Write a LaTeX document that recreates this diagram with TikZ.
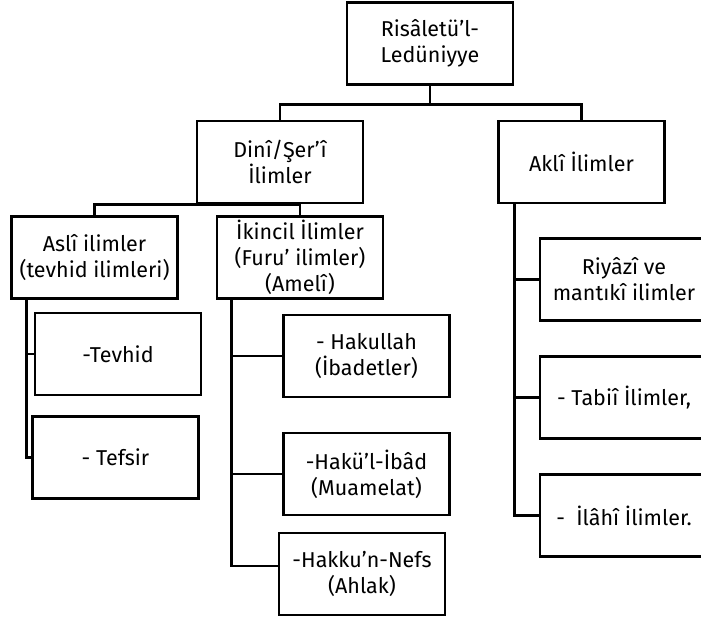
\documentclass[tikz,border=0pt]{standalone}
\usepackage{fontspec}
\setmainfont{Fira Sans}
\begin{document}
\begin{tikzpicture}[x=1pt,y=-1pt,
    kutu/.style={draw=black,line width=2.6pt,fill=white,minimum width=166pt,minimum height=82pt,
        inner sep=0pt,align=center,font=\fontsize{21.5}{26}\selectfont},
    bag/.style={black,line width=2.6pt}]
            \clip (0,0) rectangle (701,623);
            \fill[white] (0,0) rectangle (701,623);
            \node[kutu] (root) at (430,43.5) {Risâletü’l-\\Ledüniyye};
            \node[kutu] (dini) at (280,162) {Dinî/Şer’î\\İlimler};
            \node[kutu] (akli) at (581.5,162) {Aklî İlimler};
            \node[kutu] (asli) at (94.5,257.5) {Aslî ilimler\\(tevhid ilimleri)};
            \node[kutu] (ikincil) at (300,257.5) {İkincil İlimler\\(Furu’ ilimler)\\(Amelî)};
            \node[kutu] (tevhid) at (118,354) {-Tevhid};
            \node[kutu] (tefsir) at (115.5,457.5) {- Tefsir};
            \node[kutu] (hakullah) at (366.5,356) {- Hakullah\\(İbadetler)};
            \node[kutu] (ibad) at (366.5,474) {-Hakü’l-İbâd\\(Muamelat)};
            \node[kutu] (nefs) at (362,574) {-Hakku’n-Nefs\\(Ahlak)};
            \node[kutu,minimum width=168pt] (riyazi) at (624,279.5) {Riyâzî ve\\mantıkî ilimler};
            \node[kutu,minimum width=168pt] (tabii) at (624,397.5) {- Tabiî İlimler,};
            \node[kutu,minimum width=168pt] (ilahi) at (624,515.5) {-\ \ İlâhî İlimler.};
            \draw[bag] (root.south) -- ++(0,18.5) -| (dini.north);
            \draw[bag] (root.south) -- ++(0,18.5) -| (akli.north);
            \draw[bag] (asli.north) |- (ikincil.north |- dini.south) -- (ikincil.north);
            \draw[bag] ([xshift=16pt]asli.south west) |- (tevhid.west);
            \draw[bag] ([xshift=16pt]asli.south west) |- (tefsir.west);
            \draw[bag] ([xshift=16pt]ikincil.south west) |- (hakullah.west);
            \draw[bag] ([xshift=16pt]ikincil.south west) |- (ibad.west);
            \draw[bag] ([xshift=16pt]ikincil.south west) |- ([yshift=8pt]nefs.west);
            \draw[bag] ([xshift=17.5pt]akli.south west) |- (riyazi.west);
            \draw[bag] ([xshift=17.5pt]akli.south west) |- (tabii.west);
            \draw[bag] ([xshift=17.5pt]akli.south west) |- (ilahi.west);
        \end{tikzpicture}
\end{document}
